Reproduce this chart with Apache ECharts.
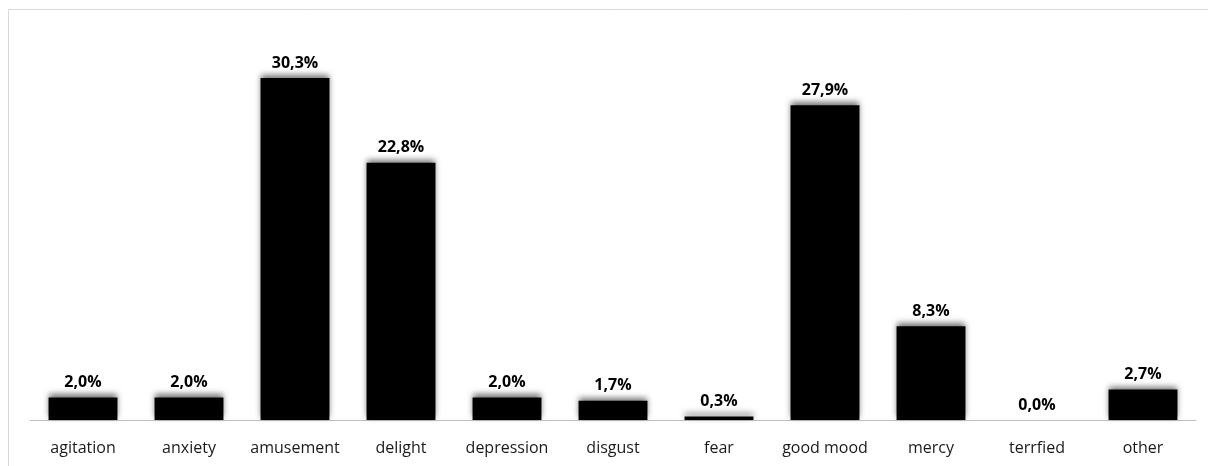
<!DOCTYPE html>
<html>
<head>
<meta charset="utf-8">
<script src="https://cdn.jsdelivr.net/npm/echarts@6/dist/echarts.min.js"></script>
<style>
  html, body { margin: 0; padding: 0; background: #fff; }
  #chart { width: 1208px; height: 466px; }
</style>
</head>
<body>
<div id="chart"></div>
<script>
// Share of each emotion (percent)
const categories = ['agitation', 'anxiety', 'amusement', 'delight', 'depression', 'disgust', 'fear', 'good mood', 'mercy', 'terrfied', 'other'];
const shares = [2.0, 2.0, 30.3, 22.8, 2.0, 1.7, 0.3, 27.9, 8.3, 0.0, 2.7];

const chart = echarts.init(document.getElementById('chart'));

const fontFamily = 'Open Sans, Liberation Sans, sans-serif';

chart.setOption({
  animation: false,
  backgroundColor: '#ffffff',
  graphic: [
    // chart frame (top and left edges)
    { type: 'line', shape: { x1: 8.5, y1: 9.5, x2: 1208, y2: 9.5 }, style: { stroke: '#d9d9d9', lineWidth: 1 } },
    { type: 'line', shape: { x1: 8.5, y1: 9.5, x2: 8.5, y2: 466 }, style: { stroke: '#d9d9d9', lineWidth: 1 } }
  ],
  grid: { left: 30, right: 12, top: 25, bottom: 46, containLabel: false },
  xAxis: {
    type: 'category',
    data: categories,
    axisLine: { show: true, lineStyle: { color: '#bfbfbf', width: 1 } },
    axisTick: { show: false },
    axisLabel: { interval: 0, color: '#1a1a1a', fontSize: 16, fontFamily: fontFamily, margin: 20 }
  },
  yAxis: {
    type: 'value',
    min: 0,
    max: 35,
    show: false,
    splitLine: { show: false }
  },
  series: [{
    type: 'bar',
    data: shares,
    barWidth: '65%',
    itemStyle: {
      color: '#000000',
      shadowColor: 'rgba(0,0,0,0.55)',
      shadowBlur: 6,
      shadowOffsetY: -3
    },
    label: {
      show: true,
      position: 'top',
      distance: 7,
      color: '#000000',
      fontWeight: 'bold',
      fontSize: 16,
      fontFamily: fontFamily,
      formatter: p => p.value.toFixed(1).replace('.', ',') + '%'
    }
  }]
});
</script>
</body>
</html>
